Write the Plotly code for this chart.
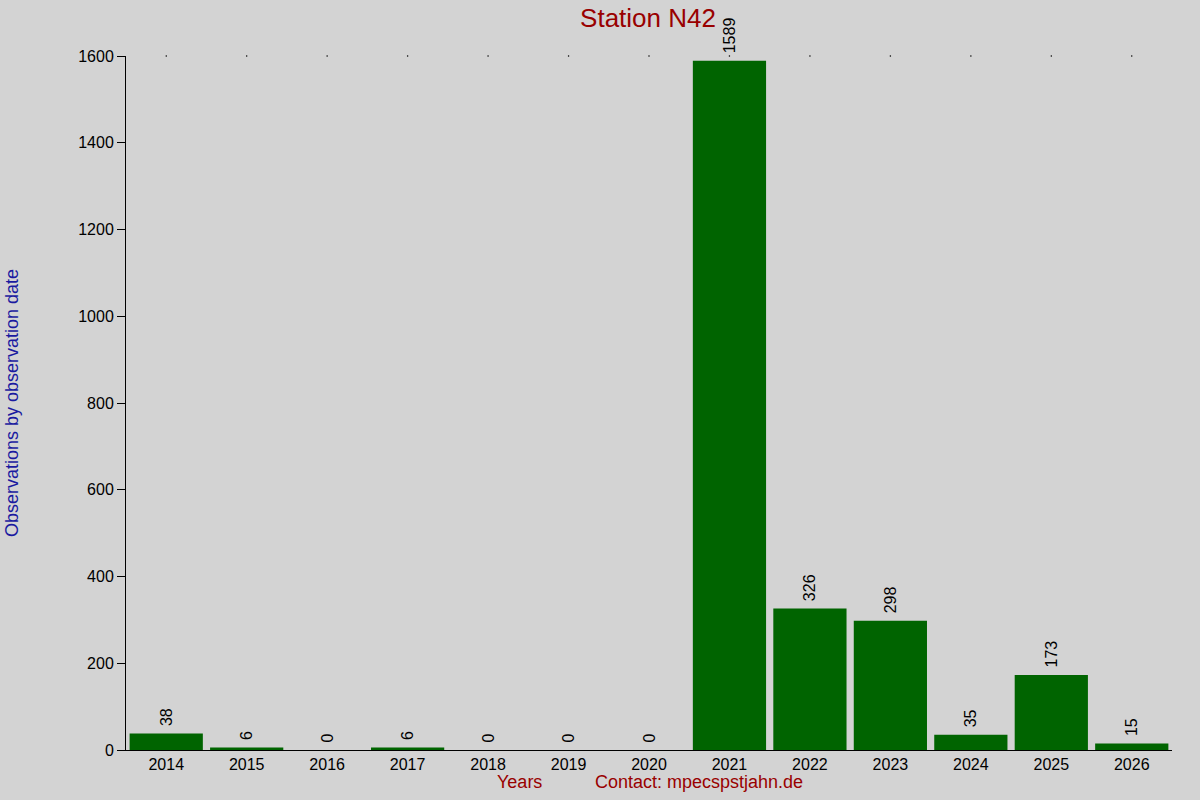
import plotly.graph_objects as go

years = ['2014', '2015', '2016', '2017', '2018', '2019', '2020',
         '2021', '2022', '2023', '2024', '2025', '2026']
counts = [38, 6, 0, 6, 0, 0, 0, 1589, 326, 298, 35, 173, 15]
y_ticks = [0, 200, 400, 600, 800, 1000, 1200, 1400, 1600]

font = 'Liberation Sans, Arial, sans-serif'

fig = go.Figure()
fig.add_trace(go.Bar(
    x=years, y=counts,
    marker=dict(color='#006400', line=dict(width=0)),
    width=0.91,
    text=['\u00a0' + str(c) for c in counts],
    textposition='outside',
    textangle=-90,
    textfont=dict(size=16, color='black', family=font),
    cliponaxis=False,
    showlegend=False,
))
# little dots at the top of each category
fig.add_trace(go.Scatter(
    x=years, y=[1600] * len(years),
    mode='markers',
    marker=dict(size=1.5, color='black'),
    showlegend=False, hoverinfo='skip',
    cliponaxis=False,
))

fig.update_layout(
    width=1200, height=800,
    paper_bgcolor='#d3d3d3', plot_bgcolor='#d3d3d3',
    margin=dict(l=126, r=28, t=56, b=50),
    font=dict(family=font, size=16, color='black'),
    title=dict(text='Station N42', x=0.54, xanchor='center', y=0.978, yanchor='middle',
               font=dict(size=26, color='#990000', family=font)),
    bargap=0.09,
    xaxis=dict(
        type='category', range=[-0.5, 12.5],
        showgrid=False, showline=True, linecolor='black', linewidth=1,
        ticks='', tickfont=dict(size=16),
        zeroline=False,
    ),
    yaxis=dict(
        range=[0, 1600], tickvals=y_ticks,
        showgrid=False, showline=True, linecolor='black', linewidth=1,
        ticks='outside', ticklen=8, tickcolor='black',
        tickfont=dict(size=16), zeroline=False,
        title=dict(text='Observations by observation date',
                   font=dict(size=18, color='#1a1aa0', family=font), standoff=54),
    ),
    annotations=[
        dict(text='Years', xref='paper', yref='paper', x=0.376, y=-0.046,
             xanchor='center', yanchor='middle', showarrow=False,
             font=dict(size=18, color='#990000', family=font)),
        dict(text='Contact: mpecspstjahn.de', xref='paper', yref='paper', x=0.548, y=-0.046,
             xanchor='center', yanchor='middle', showarrow=False,
             font=dict(size=18, color='#990000', family=font)),
    ],
)

fig.write_html('out.html', config={'displayModeBar': False},
               post_script="document.body.style.margin='0';document.body.style.background='#d3d3d3';")
